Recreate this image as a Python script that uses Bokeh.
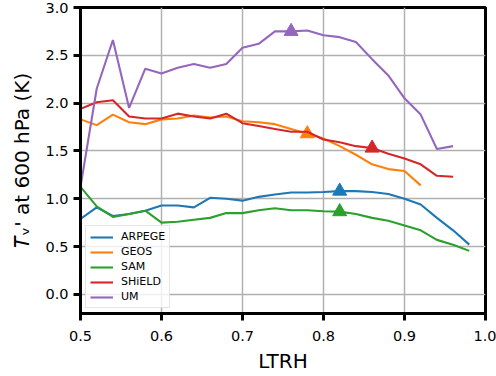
from bokeh.plotting import figure
from bokeh.models import FixedTicker, NumeralTickFormatter, Legend, LegendItem, Range1d
from bokeh.embed import file_html
from bokeh.resources import INLINE

ltrh = [0.50, 0.52, 0.54, 0.56, 0.58, 0.60, 0.62, 0.64, 0.66, 0.68, 0.70, 0.72,
        0.74, 0.76, 0.78, 0.80, 0.82, 0.84, 0.86, 0.88, 0.90, 0.92, 0.94, 0.96, 0.98]

arpege = [0.79, 0.91, 0.82, 0.84, 0.875, 0.93, 0.93, 0.91, 1.01, 1.00, 0.98, 1.02,
          1.045, 1.065, 1.065, 1.07, 1.08, 1.08, 1.07, 1.05, 1.00, 0.94, 0.80, 0.67, 0.52]
geos = [1.83, 1.77, 1.88, 1.80, 1.78, 1.83, 1.84, 1.87, 1.85, 1.86, 1.81, 1.80,
        1.78, 1.73, 1.68, 1.63, 1.55, 1.46, 1.36, 1.31, 1.29, 1.14]
sam = [1.125, 0.92, 0.81, 0.84, 0.875, 0.75, 0.76, 0.78, 0.80, 0.85, 0.85, 0.88,
       0.90, 0.88, 0.88, 0.87, 0.865, 0.84, 0.80, 0.77, 0.72, 0.67, 0.57, 0.52, 0.455]
shield = [1.94, 2.01, 2.03, 1.86, 1.84, 1.84, 1.89, 1.86, 1.84, 1.89, 1.79, 1.76,
          1.73, 1.70, 1.70, 1.62, 1.59, 1.55, 1.53, 1.47, 1.42, 1.36, 1.24, 1.23]
um = [1.125, 2.15, 2.66, 1.95, 2.36, 2.31, 2.37, 2.41, 2.37, 2.41, 2.58, 2.62,
      2.75, 2.75, 2.76, 2.71, 2.69, 2.64, 2.46, 2.29, 2.05, 1.88, 1.52, 1.55]

models = ["ARPEGE", "GEOS", "SAM", "SHiELD", "UM"]
series = [arpege, geos, sam, shield, um]
colors = ["#1f77b4", "#ff7f0e", "#2ca02c", "#d62728", "#9467bd"]
marker_x = [0.82, 0.78, 0.82, 0.86, 0.76]

x_ticks = [0.5, 0.6, 0.7, 0.8, 0.9, 1.0]
y_ticks = [0.0, 0.5, 1.0, 1.5, 2.0, 2.5, 3.0]

p = figure(width=496, height=376, output_backend="svg", toolbar_location=None,
           x_range=Range1d(0.5, 1.0), y_range=Range1d(-0.2, 3.0),
           min_border_left=80, min_border_right=11, min_border_top=7,
           min_border_bottom=63)
p.background_fill_color = "white"
p.border_fill_color = "white"
p.outline_line_color = "black"
p.outline_line_width = 3
p.outline_line_alpha = 1

items = []
for name, ys, c, mx in zip(models, series, colors, marker_x):
    xs = ltrh[:len(ys)]
    r = p.line(xs, ys, line_color=c, line_width=2.1)
    i = xs.index(mx)
    p.scatter([xs[i]], [ys[i]], marker="triangle", size=14, fill_color=c,
              line_color=c, line_width=1)
    items.append(LegendItem(label=name, renderers=[r]))

for ax in (p.xaxis, p.yaxis):
    ax.axis_line_width = 3
    ax.axis_line_color = "black"
    ax.major_tick_line_width = 3
    ax.major_tick_line_color = "black"
    ax.major_tick_out = 7
    ax.major_tick_in = 0
    ax.minor_tick_line_color = None
    ax.major_label_text_font = "DejaVu Sans"
    ax.major_label_text_font_size = "14.5px"
    ax.major_label_text_color = "black"
    ax.axis_label_text_font = "DejaVu Sans"
    ax.axis_label_text_font_size = "20px"
    ax.axis_label_text_font_style = "normal"
    ax.axis_label_text_color = "black"

p.xaxis.ticker = FixedTicker(ticks=x_ticks)
p.yaxis.ticker = FixedTicker(ticks=y_ticks)
p.xaxis.formatter = NumeralTickFormatter(format="0.0")
p.yaxis.formatter = NumeralTickFormatter(format="0.0")
p.xaxis.major_label_standoff = 10
p.yaxis.major_label_standoff = 5
p.xaxis.axis_label = "LTRH"
p.yaxis.axis_label = "\U0001D447\u1D65' at 600 hPa (K)"
p.xaxis.axis_label_standoff = 5
p.yaxis.axis_label_standoff = 8

p.grid.grid_line_color = "#b0b0b0"
p.grid.grid_line_width = 1.5
p.xgrid.ticker = FixedTicker(ticks=x_ticks)
p.ygrid.ticker = FixedTicker(ticks=y_ticks)

legend = Legend(items=items, location="bottom_left")
legend.label_text_font = "DejaVu Sans"
legend.label_text_font_size = "11px"
legend.label_text_color = "black"
legend.glyph_width = 23
legend.glyph_height = 12
legend.label_height = 12
legend.spacing = 2
legend.padding = 4
legend.margin = 5
legend.label_standoff = 8
legend.background_fill_color = "white"
legend.background_fill_alpha = 0.8
legend.border_line_color = "#cccccc"
legend.border_line_width = 1.5
p.add_layout(legend)

open("out.html", "w").write(file_html(p, INLINE))
